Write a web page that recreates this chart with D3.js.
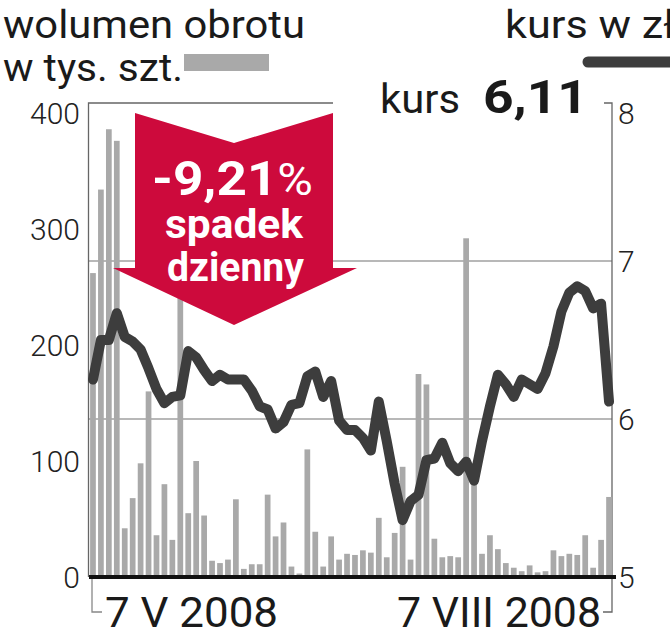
<!DOCTYPE html>
<html>
<head>
<meta charset="utf-8">
<script src="https://cdn.jsdelivr.net/npm/d3@7"></script>
<style>
  body { margin: 0; background: #fff; }
  text { font-family: Roboto, "DejaVu Sans", sans-serif; }
</style>
</head>
<body>
<div id="chart"></div>
<script>
// wolumen obrotu (tys. szt.) - one bar per session, 7 V 2008 .. 7 VIII 2008
var volume = [262, 334, 386, 376, 42, 68, 98, 160, 36, 80, 32, 250, 55, 100, 53, 14,
  12, 15, 67, 7, 11, 11, 71, 35, 47, 9, 3, 110, 39, 9, 35, 15,
  20, 19, 23, 21, 51, 17, 38, 95, 15, 175, 166, 33, 17, 18, 17, 292,
  82, 20, 36, 24, 12, 8, 5, 10, 4, 5, 23, 18, 20, 19, 36, 8, 32, 69];

// kurs w zl
var price = [6.25, 6.50, 6.50, 6.67, 6.52, 6.49, 6.44, 6.32, 6.19, 6.10, 6.14, 6.15, 6.43, 6.39, 6.31, 6.24,
  6.28, 6.25, 6.25, 6.25, 6.18, 6.08, 6.06, 5.94, 5.98, 6.09, 6.10, 6.27, 6.30, 6.14, 6.24, 5.99,
  5.93, 5.93, 5.88, 5.80, 6.11, 5.86, 5.59, 5.36, 5.48, 5.52, 5.74, 5.75, 5.85, 5.72, 5.67, 5.73,
  5.61, 5.86, 6.08, 6.28, 6.22, 6.14, 6.25, 6.22, 6.19, 6.29, 6.46, 6.68, 6.80, 6.84, 6.81, 6.70, 6.73, 6.11];

var volTicks = [0, 100, 200, 300, 400];
var priceTicks = [5, 6, 7, 8];
var priceGrid = [6, 7];
var dateLabels = ["7 V 2008", "7 VIII 2008"];
var lastPrice = "6,11";
var change = "-9,21";

var width = 670, height = 640;
var left = 89, right = 612, bottom = 577;
var red = "#cd0a3c";

var svg = d3.select("#chart").append("svg")
  .attr("width", width)
  .attr("height", height);

svg.append("rect")
  .attr("width", width)
  .attr("height", height)
  .attr("fill", "#fff");

var x = d3.scaleBand()
  .domain(d3.range(volume.length))
  .range([left, right + 1])
  .paddingInner(0.28)
  .paddingOuter(0.14);

var yVol = d3.scaleLinear().domain([0, 400]).range([bottom, 113]);
var yPrice = d3.scaleLinear().domain([5, 8]).range([bottom, 103]);

// grid
svg.selectAll(".grid")
  .data(priceGrid)
  .enter().append("line")
  .attr("x1", left).attr("x2", right)
  .attr("y1", d => yPrice(d)).attr("y2", d => yPrice(d))
  .attr("stroke", "#a0a0a0")
  .attr("stroke-width", 1.5);

// frame: left + top part, right axis with bracket
svg.append("path")
  .attr("d", "M" + (left - 0.5) + "," + bottom + "V" + yPrice(8) + "H333")
  .attr("fill", "none").attr("stroke", "#666").attr("stroke-width", 1.3);
svg.append("path")
  .attr("d", "M604," + yPrice(8) + "H" + right + "V612H603")
  .attr("fill", "none").attr("stroke", "#666").attr("stroke-width", 1.3);
svg.append("path")
  .attr("d", "M92," + bottom + "V612H102")
  .attr("fill", "none").attr("stroke", "#888").attr("stroke-width", 1.3);

// bars
svg.selectAll(".bar")
  .data(volume)
  .enter().append("rect")
  .attr("class", "bar")
  .attr("x", (d, i) => x(i))
  .attr("width", x.bandwidth())
  .attr("y", d => yVol(d))
  .attr("height", d => bottom - yVol(d))
  .attr("fill", "#a9a9a9");

// kurs line
var line = d3.line()
  .x((d, i) => x(i) + x.bandwidth() / 2)
  .y(d => yPrice(d));

svg.append("path")
  .datum(price)
  .attr("d", line)
  .attr("fill", "none")
  .attr("stroke", "#3d3d3d")
  .attr("stroke-width", 10)
  .attr("stroke-linejoin", "round")
  .attr("stroke-linecap", "round");

// baseline
svg.append("line")
  .attr("x1", left).attr("x2", 616)
  .attr("y1", bottom).attr("y2", bottom)
  .attr("stroke", "#111").attr("stroke-width", 4);

// axis labels
svg.selectAll(".vtick")
  .data(volTicks)
  .enter().append("text")
  .attr("x", 80)
  .attr("y", d => yVol(d))
  .attr("dy", "0.36em")
  .attr("text-anchor", "end")
  .attr("font-size", 30)
  .attr("font-weight", 300)
  .attr("fill", "#222")
  .text(d => d);

svg.selectAll(".ptick")
  .data(priceTicks)
  .enter().append("text")
  .attr("x", 618)
  .attr("y", d => Math.max(yPrice(d), 113))
  .attr("dy", "0.36em")
  .attr("font-size", 30)
  .attr("font-weight", 300)
  .attr("fill", "#222")
  .text(d => d);

// arrow
var arrow = [[135, 113], [234, 143], [333, 113], [333, 268], [357, 268], [234, 325], [113, 268], [135, 268]];
svg.append("polygon")
  .attr("points", arrow.map(p => p.join(",")).join(" "))
  .attr("fill", red);

var at = svg.append("text")
  .attr("x", 152).attr("y", 195)
  .attr("fill", "#fff")
  .attr("font-size", 48)
  .attr("textLength", 161)
  .attr("lengthAdjust", "spacingAndGlyphs");
at.append("tspan").attr("font-weight", 700).text(change);
at.append("tspan").attr("font-weight", 400).attr("font-size", 44).text("%");

svg.append("text")
  .attr("x", 165).attr("y", 238)
  .attr("fill", "#fff")
  .attr("font-size", 41)
  .attr("font-weight", 700)
  .attr("textLength", 138)
  .attr("lengthAdjust", "spacingAndGlyphs")
  .text("spadek");

svg.append("text")
  .attr("x", 167).attr("y", 281)
  .attr("fill", "#fff")
  .attr("font-size", 41)
  .attr("font-weight", 700)
  .attr("textLength", 137)
  .attr("lengthAdjust", "spacingAndGlyphs")
  .text("dzienny");

// header / legend
function label(txt, px, py, size, len, weight) {
  var t = svg.append("text")
    .attr("x", px).attr("y", py)
    .attr("font-size", size)
    .attr("font-weight", weight || 400)
    .attr("fill", "#1a1a1a")
    .text(txt);
  if (len) t.attr("textLength", len).attr("lengthAdjust", "spacingAndGlyphs");
  return t;
}

label("wolumen obrotu", 3, 38, 38, 302);
label("w tys. szt.", 3, 81, 38, 180);
svg.append("rect")
  .attr("x", 184).attr("y", 54)
  .attr("width", 85).attr("height", 17)
  .attr("fill", "#a9a9a9");

label("kurs w zł", 505, 38, 38, 170);
svg.append("line")
  .attr("x1", 588).attr("x2", 675)
  .attr("y1", 62).attr("y2", 62)
  .attr("stroke", "#3d3d3d")
  .attr("stroke-width", 11)
  .attr("stroke-linecap", "round");

label("kurs", 380, 113, 41, 80);
label(lastPrice, 483, 113, 46, 105, 700);

// dates
label(dateLabels[0], 105, 627, 42, 173);
label(dateLabels[1], 397, 627, 42, 204);
</script>
</body>
</html>
